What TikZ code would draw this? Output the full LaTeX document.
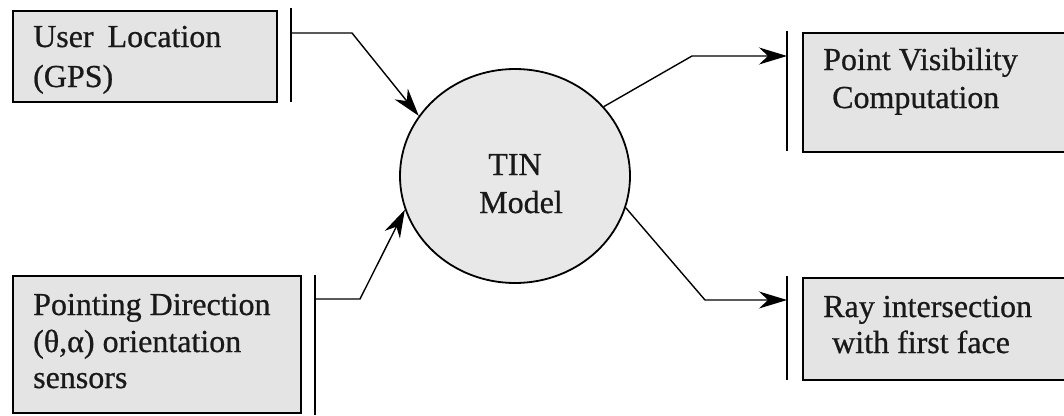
\documentclass[tikz,border=0pt]{standalone}
\usepackage{fontspec}
\setmainfont{Liberation Serif}[FakeBold=0.7]
\usetikzlibrary{arrows.meta,shapes.geometric}
\definecolor{boxgray}{HTML}{E4E4E4}
\definecolor{circgray}{HTML}{E8E8E8}
\tikzset{
  boxrect/.style={draw=black, line width=1.8pt, fill=boxgray, inner sep=0pt, anchor=north west},
  barline/.style={line width=1.8pt},
  conn/.style={line width=1.4pt, -{Stealth[length=28pt,width=17pt,inset=9pt]}},
  txt/.style={font=\fontsize{32}{38}\selectfont, text=black!90, inner sep=0pt, anchor=base west},
  ctxt/.style={font=\fontsize{32}{38}\selectfont, text=black!90, inner sep=0pt, anchor=base},
}
\begin{document}
\begin{tikzpicture}[x=1pt,y=-1pt]
\useasboundingbox (0,0) rectangle (1064,415);
\clip (0,0) rectangle (1064,415);
% boxes
\node[boxrect, minimum width=264pt, minimum height=91pt] (b1) at (12,10) {};
\node[boxrect, minimum width=288pt, minimum height=137pt] (b2) at (12,275) {};
\node[boxrect, minimum width=270pt, minimum height=119pt] (b3) at (802,32) {};
\node[boxrect, minimum width=270pt, minimum height=102pt] (b4) at (802,277) {};
% texts
\node[txt] (t1a) at (33,47) {User\hspace{14pt}Location};
\node[txt] (t1b) at (33,87) {(GPS)};
\node[txt] (t2a) at (33,315) {Pointing Direction};
\node[txt] (t2b) at (33,352) {(θ,α) orientation};
\node[txt] (t2c) at (33,388) {sensors};
\node[txt] (t3a) at (823,70) {Point Visibility};
\node[txt] (t3b) at (832,108) {Computation};
\node[txt] (t4a) at (823,317) {Ray intersection};
\node[txt] (t4b) at (832,353) {with first face};
% circle
\node[ellipse, draw=black, line width=1.8pt, fill=circgray, minimum width=230pt, minimum height=214pt, inner sep=0pt] (tin) at (515,176) {};
\node[ctxt] (tinA) at (515,175) {TIN};
\node[ctxt] (tinB) at (521,213) {Model};
% bars
\coordinate (p1a) at (291,8);   \coordinate (p1b) at (291,102);
\coordinate (p2a) at (315,275); \coordinate (p2b) at (315,415);
\coordinate (p3a) at (787,31);  \coordinate (p3b) at (787,151);
\coordinate (p4a) at (787,276); \coordinate (p4b) at (787,380);
\draw[barline] (p1a) -- (p1b);
\draw[barline] (p2a) -- (p2b);
\draw[barline] (p3a) -- (p3b);
\draw[barline] (p4a) -- (p4b);
% connector anchors
\coordinate (s1) at (291,33);
\coordinate (k1) at (352,33);
\coordinate (s2) at (315,299);
\coordinate (k2) at (360,299);
\coordinate (e3) at (787,56);
\coordinate (k3) at (692,56);
\coordinate (e4) at (787,300);
\coordinate (k4) at (705,300);
\draw[conn] (s1) -- (k1) -- (tin.148);
\draw[conn] (s2) -- (k2) -- (tin.197);
\draw[conn] (tin.38) -- (k3) -- (e3);
\draw[conn] (tin.344) -- (k4) -- (e4);
\end{tikzpicture}
\end{document}
